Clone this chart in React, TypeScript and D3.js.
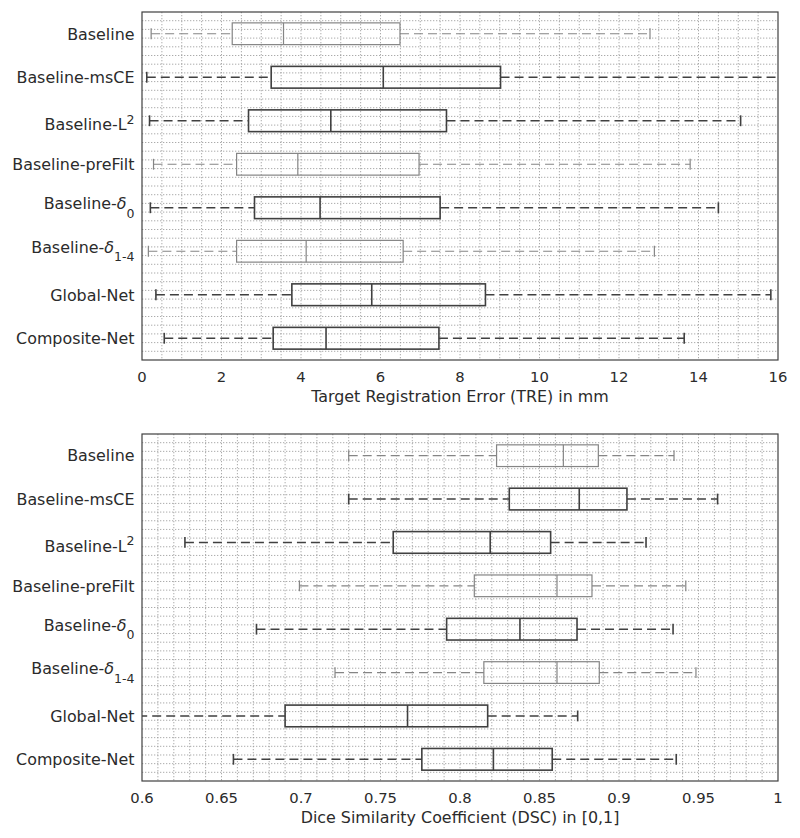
import React from "react";
import * as d3 from "d3";

// ---- data ----
const categories = [
  "Baseline",
  "Baseline-msCE",
  "Baseline-L^2",
  "Baseline-preFilt",
  "Baseline-δ_0",
  "Baseline-δ_1-4",
  "Global-Net",
  "Composite-Net",
];

// TRE (mm)
const treLow = [0.23, 0.12, 0.19, 0.29, 0.21, 0.16, 0.35, 0.56];
const treQ1 = [2.27, 3.25, 2.68, 2.38, 2.83, 2.38, 3.77, 3.3];
const treMed = [3.56, 6.07, 4.75, 3.92, 4.48, 4.13, 5.78, 4.63];
const treQ3 = [6.49, 9.02, 7.66, 6.97, 7.5, 6.57, 8.64, 7.47];
const treHigh = [12.78, 16.8, 15.06, 13.79, 14.5, 12.89, 15.82, 13.64];
const treTicks = [0, 2, 4, 6, 8, 10, 12, 14, 16];

// DSC
const dscLow = [0.73, 0.73, 0.627, 0.699, 0.672, 0.7214, 0.58, 0.6575];
const dscQ1 = [0.823, 0.831, 0.758, 0.809, 0.7916, 0.815, 0.69, 0.776];
const dscMed = [0.865, 0.875, 0.819, 0.861, 0.8377, 0.861, 0.767, 0.821];
const dscQ3 = [0.887, 0.905, 0.857, 0.883, 0.8736, 0.8876, 0.8174, 0.858];
const dscHigh = [0.9346, 0.962, 0.917, 0.942, 0.934, 0.9484, 0.874, 0.936];
const dscTicks = [0.6, 0.65, 0.7, 0.75, 0.8, 0.85, 0.9, 0.95, 1];

// ---- style ----
const lightSet = new Set(["Baseline", "Baseline-preFilt", "Baseline-δ_1-4"]);
const FONT = "'DejaVu Sans', sans-serif";
const TEXT = "#2b2b2b";
const LABEL_SIZE = 15.9;

function Label({ name, x, y }: { name: string; x: number; y: number }) {
  if (name.includes("^")) {
    const [base, sup] = name.split("^");
    return (
      <text x={x} y={y + 9.5} textAnchor="end" fontFamily={FONT} fontSize={LABEL_SIZE} fill={TEXT}>
        {base}
        <tspan dy={-6.7} fontSize={12.5}>{sup}</tspan>
      </text>
    );
  }
  if (name.includes("_")) {
    const [pre, sub] = name.split("_");
    const base = pre.replace("δ", "");
    return (
      <text x={x} y={y + 1.5} textAnchor="end" fontFamily={FONT} fontSize={LABEL_SIZE} fill={TEXT}>
        {base}
        <tspan fontStyle="italic">δ</tspan>
        <tspan dy={8.5} fontSize={12.5}>{sub}</tspan>
      </text>
    );
  }
  return (
    <text x={x} y={y + 5.8} textAnchor="end" fontFamily={FONT} fontSize={LABEL_SIZE} fill={TEXT}>
      {name}
    </text>
  );
}

type PanelProps = {
  id: string;
  top: number;
  bottom: number;
  domain: [number, number];
  minorStep: number;
  ticks: number[];
  tickFmt: (v: number) => string;
  low: number[];
  q1: number[];
  med: number[];
  q3: number[];
  high: number[];
  title: string;
  tickBaseline: number;
  titleBaseline: number;
};

function Panel(p: PanelProps) {
  const left = 142;
  const right = 778;
  const x = d3.scaleLinear().domain(p.domain).range([left, right]);
  const y = d3.scaleLinear().domain([0.5, categories.length + 0.5]).range([p.top, p.bottom]);
  const nMinor = Math.round((p.domain[1] - p.domain[0]) / p.minorStep);
  const vLines = d3.range(1, nMinor).map((i) => p.domain[0] + i * p.minorStep);
  const hLines = d3.range(1, categories.length * 5).map((i) => 0.5 + i * 0.2);
  const boxHalf = 0.25;
  const capHalf = 0.125;
  return (
    <g>
      <defs>
        <clipPath id={p.id}>
          <rect x={left} y={p.top} width={right - left} height={p.bottom - p.top} />
        </clipPath>
      </defs>
      <rect x={left} y={p.top} width={right - left} height={p.bottom - p.top} fill="#fff" />
      <g stroke="#959595" strokeWidth={0.8} strokeDasharray="1.3,1.7">
        {vLines.map((v, i) => (
          <line key={"v" + i} x1={x(v)} x2={x(v)} y1={p.top} y2={p.bottom} />
        ))}
        {hLines.map((v, i) => (
          <line key={"h" + i} x1={left} x2={right} y1={y(v)} y2={y(v)} />
        ))}
      </g>
      <g clipPath={`url(#${p.id})`} fill="none">
        {categories.map((c, i) => {
          const light = lightSet.has(c);
          const col = light ? "#858585" : "#404040";
          const sw = light ? 1.2 : 1.6;
          const cy = y(i + 1);
          return (
            <g key={c} stroke={col} strokeWidth={sw}>
              <line x1={x(p.low[i])} x2={x(p.q1[i])} y1={cy} y2={cy} strokeDasharray="9,5" />
              <line x1={x(p.q3[i])} x2={x(p.high[i])} y1={cy} y2={cy} strokeDasharray="9,5" />
              <line x1={x(p.low[i])} x2={x(p.low[i])} y1={y(i + 1 - capHalf)} y2={y(i + 1 + capHalf)} />
              <line x1={x(p.high[i])} x2={x(p.high[i])} y1={y(i + 1 - capHalf)} y2={y(i + 1 + capHalf)} />
              <rect
                x={x(p.q1[i])}
                y={y(i + 1 - boxHalf)}
                width={x(p.q3[i]) - x(p.q1[i])}
                height={y(i + 1 + boxHalf) - y(i + 1 - boxHalf)}
              />
              <line x1={x(p.med[i])} x2={x(p.med[i])} y1={y(i + 1 - boxHalf)} y2={y(i + 1 + boxHalf)} />
            </g>
          );
        })}
      </g>
      <rect
        x={left}
        y={p.top}
        width={right - left}
        height={p.bottom - p.top}
        fill="none"
        stroke="#404040"
        strokeWidth={1.2}
      />
      {categories.map((c, i) => (
        <Label key={c} name={c} x={134.5} y={y(i + 1)} />
      ))}
      {p.ticks.map((t) => (
        <text
          key={t}
          x={x(t)}
          y={p.tickBaseline}
          textAnchor="middle"
          fontFamily={FONT}
          fontSize={14.8}
          fill={TEXT}
        >
          {p.tickFmt(t)}
        </text>
      ))}
      <text
        x={(left + right) / 2}
        y={p.titleBaseline}
        textAnchor="middle"
        fontFamily={FONT}
        fontSize={15.9}
        fill={TEXT}
      >
        {p.title}
      </text>
    </g>
  );
}

export default function App() {
  return (
    <svg
      width={800}
      height={838}
      style={{ position: "absolute", left: 0, top: 0, background: "#fff" }}
    >
      <rect x={0} y={0} width={800} height={838} fill="#fff" />
      <Panel
        id="clipTop"
        top={12}
        bottom={360}
        domain={[0, 16]}
        minorStep={0.5}
        ticks={treTicks}
        tickFmt={(v) => String(v)}
        low={treLow}
        q1={treQ1}
        med={treMed}
        q3={treQ3}
        high={treHigh}
        title="Target Registration Error (TRE) in mm"
        tickBaseline={381.7}
        titleBaseline={401.7}
      />
      <Panel
        id="clipBottom"
        top={434}
        bottom={781}
        domain={[0.6, 1]}
        minorStep={0.01}
        ticks={dscTicks}
        tickFmt={(v) => String(+v.toFixed(2))}
        low={dscLow}
        q1={dscQ1}
        med={dscMed}
        q3={dscQ3}
        high={dscHigh}
        title="Dice Similarity Coefficient (DSC) in [0,1]"
        tickBaseline={803}
        titleBaseline={823}
      />
    </svg>
  );
}
